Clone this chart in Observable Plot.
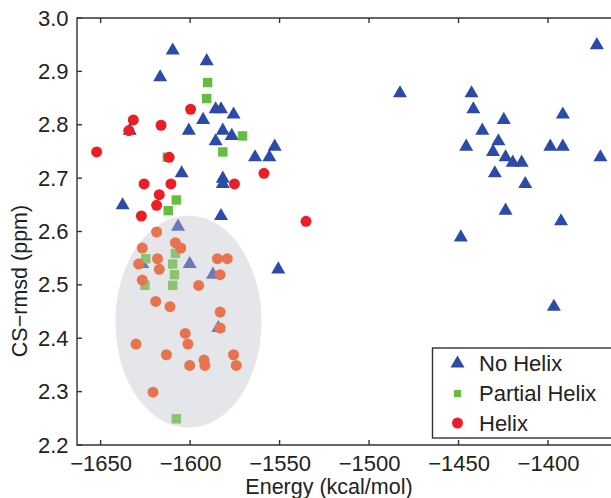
<!DOCTYPE html>
<html>
<head>
<meta charset="utf-8">
<script src="https://cdn.jsdelivr.net/npm/d3@7"></script>
<script src="https://cdn.jsdelivr.net/npm/@observablehq/plot@0.6"></script>
<style>
  html, body { margin: 0; padding: 0; background: #fff; }
  svg { display: block; }
</style>
</head>
<body>
<div id="chart"></div>
<script>
// ---- Data ----
const categories = ["No Helix", "Partial Helix", "Helix"];

const noHelixEnergy = [
  -1610, -1617, -1591, -1586, -1583, -1593, -1576, -1601, -1582, -1577,
  -1586, -1553, -1564, -1556, -1605, -1582, -1582, -1638, -1583, -1551,
  -1634, -1607, -1600.5, -1587.5, -1627, -1584.5,
  -1373, -1483, -1443, -1442, -1425, -1392, -1437, -1428, -1446, -1431,
  -1399, -1392, -1371, -1424, -1420, -1415, -1430, -1413, -1424, -1393,
  -1449, -1397
];
const noHelixRmsd = [
  2.94, 2.89, 2.92, 2.83, 2.83, 2.81, 2.82, 2.79, 2.79, 2.78,
  2.77, 2.76, 2.74, 2.74, 2.71, 2.70, 2.69, 2.65, 2.63, 2.53,
  2.79, 2.61, 2.54, 2.52, 2.54, 2.42,
  2.95, 2.86, 2.86, 2.83, 2.81, 2.82, 2.79, 2.77, 2.76, 2.75,
  2.76, 2.76, 2.74, 2.74, 2.73, 2.73, 2.71, 2.69, 2.64, 2.62,
  2.59, 2.46
];

const partialEnergy = [
  -1590.5, -1591, -1571, -1582, -1613, -1608, -1612.5,
  -1625, -1608.5, -1610, -1609, -1610, -1625.5, -1608
];
const partialRmsd = [
  2.88, 2.85, 2.78, 2.75, 2.74, 2.66, 2.64,
  2.55, 2.56, 2.54, 2.52, 2.50, 2.50, 2.25
];

const helixEnergy = [
  -1600, -1632, -1634.5, -1616.5, -1652.5, -1612, -1626, -1611, -1617.5, -1619,
  -1627.5, -1559, -1575.5, -1535.5,
  -1619, -1627, -1608.5, -1605.5, -1618.5, -1629, -1617.5, -1627, -1585, -1579.5,
  -1583.5, -1595.5, -1619.5, -1611.5, -1583.5, -1583.5, -1603, -1601.5, -1630.5, -1613.5,
  -1600.5, -1592.5, -1592, -1576, -1574.5, -1621
];
const helixRmsd = [
  2.83, 2.81, 2.79, 2.80, 2.75, 2.74, 2.69, 2.69, 2.67, 2.65,
  2.63, 2.71, 2.69, 2.62,
  2.60, 2.57, 2.58, 2.57, 2.55, 2.54, 2.53, 2.51, 2.55, 2.55,
  2.52, 2.50, 2.47, 2.46, 2.45, 2.42, 2.41, 2.39, 2.39, 2.37,
  2.35, 2.36, 2.35, 2.37, 2.35, 2.30
];

const xTicks = [-1650, -1600, -1550, -1500, -1450, -1400];
const yTicks = [2.2, 2.3, 2.4, 2.5, 2.6, 2.7, 2.8, 2.9, 3.0];
const xDomain = [-1663.2, -1364.8];
const yDomain = [2.2, 3.0];

// Highlight ellipse (data units)
const ellipseCenter = [-1601.2, 2.432];
const ellipseRadii = [40.8, 0.1985];

// ---- Styles ----
const FONT = "'Liberation Sans', Arial, Helvetica, sans-serif";
const colors = {"No Helix": "#2c4aa7", "Partial Helix": "#63bd3e", "Helix": "#ec1e25"};
const faded = {"No Helix": "#6e77b9", "Partial Helix": "#8bc46f", "Helix": "#e8744f"};
const symbols = {"No Helix": "triangle", "Partial Helix": "square", "Helix": "circle"};
const radii = {"No Helix": 5.2, "Partial Helix": 5.3, "Helix": 5.5};
const ellipseFill = "#e4e6ea";
const frameColor = "#333";

// ---- Build table ----
function series(cat, es, rs) { return es.map((e, i) => ({cat, energy: e, rmsd: rs[i]})); }
const table = {
  "No Helix": series("No Helix", noHelixEnergy, noHelixRmsd),
  "Partial Helix": series("Partial Helix", partialEnergy, partialRmsd),
  "Helix": series("Helix", helixEnergy, helixRmsd)
};
const inside = d => ((d.energy - ellipseCenter[0]) / ellipseRadii[0]) ** 2 +
                    ((d.rmsd - ellipseCenter[1]) / ellipseRadii[1]) ** 2 < 1;
const ellipsePts = d3.range(0, 361, 2).map(a => {
  const t = a * Math.PI / 180;
  return {energy: ellipseCenter[0] + ellipseRadii[0] * Math.cos(t),
          rmsd: ellipseCenter[1] + ellipseRadii[1] * Math.sin(t)};
});

const plot = Plot.plot({
  width: 611,
  height: 498,
  marginLeft: 77, marginRight: 0, marginTop: 18, marginBottom: 53,
  style: {fontFamily: FONT, fontSize: "22px", color: "#222", background: "white"},
  x: {domain: xDomain, ticks: xTicks, tickFormat: d3.format("d"), tickSize: 0, tickPadding: 10, label: null},
  y: {domain: yDomain, ticks: yTicks, tickFormat: d3.format(".1f"), tickSize: 0, tickPadding: 9, label: null},
  color: {type: "identity"},
  marks: [
    Plot.line(ellipsePts, {x: "energy", y: "rmsd", fill: ellipseFill, stroke: "none"}),
    ...categories.map(cat => Plot.dot(table[cat], {
      x: "energy", y: "rmsd", symbol: symbols[cat], r: radii[cat],
      fill: d => inside(d) ? faded[cat] : colors[cat], stroke: "none"
    }))
  ]
});

// ---- Frame, inward ticks, axis labels, legend ----
const sx = plot.scale("x"), sy = plot.scale("y");
const X = v => sx.apply(v), Y = v => sy.apply(v);
const svg = d3.select(plot);
const fLeft = X(xDomain[0]), fRight = X(xDomain[1]), fBottom = Y(yDomain[0]), fTop = Y(yDomain[1]);
const g = svg.append("g").attr("fill", "none").attr("stroke", frameColor).attr("stroke-width", 1.4);
g.append("path").attr("d", `M${fRight},${fTop}H${fLeft}V${fBottom}H${fRight}`);
const tl = 5;
xTicks.forEach(t => {
  g.append("line").attr("x1", X(t)).attr("x2", X(t)).attr("y1", fBottom).attr("y2", fBottom - tl);
  g.append("line").attr("x1", X(t)).attr("x2", X(t)).attr("y1", fTop).attr("y2", fTop + tl);
});
yTicks.forEach(t => {
  g.append("line").attr("x1", fLeft).attr("x2", fLeft + tl).attr("y1", Y(t)).attr("y2", Y(t));
});

svg.append("text")
  .attr("x", 329).attr("y", 494)
  .attr("text-anchor", "middle")
  .attr("font-family", FONT).attr("font-size", 21.5).attr("fill", "#222")
  .text("Energy (kcal/mol)");
svg.append("text")
  .attr("transform", "translate(27,281) rotate(-90)")
  .attr("text-anchor", "middle")
  .attr("font-family", FONT).attr("font-size", 21.5).attr("fill", "#222")
  .text("CS\u2212rmsd (ppm)");

// Legend
const lg = svg.append("g");
lg.append("rect").attr("x", 432.5).attr("y", 348).attr("width", 200).attr("height", 90)
  .attr("fill", "white").attr("stroke", frameColor).attr("stroke-width", 1.4);
const legendRows = [363.5, 393.5, 423];
const legendSym = {
  "No Helix": d3.symbol(d3.symbolTriangle, Math.PI * 5.2 * 5.2),
  "Partial Helix": d3.symbol(d3.symbolSquare, 49),
  "Helix": d3.symbol(d3.symbolCircle, Math.PI * 5.5 * 5.5)
};
categories.forEach((cat, i) => {
  lg.append("path").attr("d", legendSym[cat]())
    .attr("transform", `translate(457.5,${legendRows[i]})`)
    .attr("fill", colors[cat]);
  lg.append("text").attr("x", 479).attr("y", legendRows[i]).attr("dy", "0.36em")
    .attr("text-anchor", "start")
    .attr("font-family", FONT).attr("font-size", 22).attr("fill", "#222")
    .text(cat);
});

document.getElementById("chart").appendChild(plot);
</script>
</body>
</html>
